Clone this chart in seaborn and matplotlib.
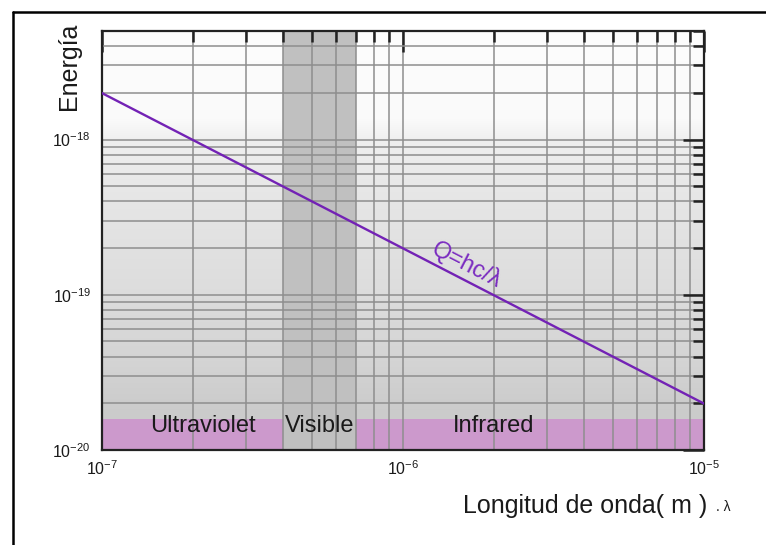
import numpy as np
import matplotlib
matplotlib.use("Agg")
import matplotlib.pyplot as plt
import seaborn as sns
from matplotlib.ticker import LogLocator, NullFormatter, LogFormatterSciNotation
from matplotlib.colors import LinearSegmentedColormap
from matplotlib.lines import Line2D

# Photon energy against wavelength, Q = hc / lambda
wavelength_m = [1e-7, 1e-5]
energy_j = [1.99e-18, 1.99e-20]

x_limits = [1e-7, 1e-5]
y_limits = [1e-20, 5e-18]

# spectral regions
visible_range = [4e-7, 7e-7]
region_names = ["Ultraviolet", "Visible", "Infrared"]
region_centres = [2.17e-7, 5.3e-7, 2.0e-6]
region_strip = [1e-20, 1.58e-20]

equation_text = "Q=hc/λ"

sns.set_theme(style="white")
plt.rcParams["font.family"] = ["Liberation Sans", "DejaVu Sans"]
plt.rcParams["mathtext.fontset"] = "custom"
plt.rcParams["mathtext.rm"] = "Liberation Sans"
plt.rcParams["mathtext.it"] = "Liberation Sans:italic"
plt.rcParams["mathtext.bf"] = "Liberation Sans:bold"
plt.rcParams["axes.unicode_minus"] = False

W, H = 766, 545
fig = plt.figure(figsize=(W / 100, H / 100), dpi=100, facecolor="white")
pos = [102 / W, 95 / H, 602 / W, 419 / H]

# shaded backdrop, white at the top fading to grey at the bottom
bg = fig.add_axes(pos, zorder=0)
bg.axis("off")
shade = LinearSegmentedColormap.from_list(
    "shade",
    [(0.0, "#c8c8c8"), (0.12, "#cdcdcd"), (0.21, "#d4d4d4"), (0.36, "#dcdcdc"),
     (0.6, "#e6e6e6"), (0.74, "#efefef"), (0.79, "#fafafa"), (1.0, "#fdfdfd")])
grad = np.linspace(0, 1, 256).reshape(-1, 1)
bg.imshow(grad, cmap=shade, aspect="auto", origin="lower",
          extent=[0, 1, 0, 1], interpolation="bilinear")
bg.set_xlim(0, 1)
bg.set_ylim(0, 1)

ax = fig.add_axes(pos, zorder=1)
ax.patch.set_alpha(0)
ax.set_xscale("log")
ax.set_yscale("log")
ax.set_xlim(*x_limits)
ax.set_ylim(*y_limits)

# coloured strip along the bottom and the visible band
ax.axhspan(region_strip[0], region_strip[1], color="#cc99cc", lw=0, zorder=0.6)
ax.axvspan(visible_range[0], visible_range[1], color="#c0c0c0", lw=0, zorder=1)

ax.set_axisbelow("line")
ax.grid(which="both", color="#8e8e8e", lw=1.1)

sns.lineplot(x=wavelength_m, y=energy_j, ax=ax, color="#7322b5", lw=1.7, zorder=3)

for name, xc in zip(region_names, region_centres):
    ax.text(xc, 1.3e-20, name, ha="center", va="baseline",
            fontsize=17, color="#1a1a1a", zorder=5)

# equation label laid along the line
p0 = ax.transData.transform((wavelength_m[0], energy_j[0]))
p1 = ax.transData.transform((wavelength_m[1], energy_j[1]))
angle = np.degrees(np.arctan2(p1[1] - p0[1], p1[0] - p0[0]))
ax.text(1.63e-6, 1.56e-19, equation_text, rotation=angle, rotation_mode="anchor",
        ha="center", va="center", fontsize=17, color="#7a2bc0", zorder=5)

for axis in (ax.xaxis, ax.yaxis):
    axis.set_major_locator(LogLocator(base=10, numticks=10))
    axis.set_minor_locator(LogLocator(base=10, subs=np.arange(2, 10), numticks=20))
    axis.set_major_formatter(LogFormatterSciNotation())
    axis.set_minor_formatter(NullFormatter())

ax.tick_params(which="major", direction="in", length=15, width=1.8,
               top=True, right=True, color="#222222", labelsize=11.5,
               labelcolor="#1a1a1a")
ax.tick_params(which="minor", direction="in", length=8, width=1.8,
               top=True, right=True, color="#222222")
ax.tick_params(axis="x", which="major", pad=7)
ax.tick_params(axis="y", which="major", pad=8)
for sp in ax.spines.values():
    sp.set_color("#222222")
    sp.set_linewidth(1.6)
    sp.set_visible(True)

ax.set_xlabel("")
ax.set_ylabel("")

fig.text(69 / W, 1 - 23 / H, "Energía", rotation=90, ha="center", va="top",
         fontsize=18, color="#1a1a1a")
fig.text(463 / W, 1 - 513 / H, "Longitud de onda( m )", ha="left", va="baseline",
         fontsize=18, color="#1a1a1a")
fig.text(716 / W, 1 - 511 / H, ". λ", ha="left", va="baseline",
         fontsize=10, color="#1a1a1a")

# outer frame
fig.add_artist(Line2D([13 / W, 1], [1 - 12 / H] * 2, transform=fig.transFigure,
                      color="black", lw=1.8))
fig.add_artist(Line2D([13 / W] * 2, [0, 1 - 12 / H], transform=fig.transFigure,
                      color="black", lw=1.8))

fig.savefig("out.png", dpi=100, facecolor="white")
